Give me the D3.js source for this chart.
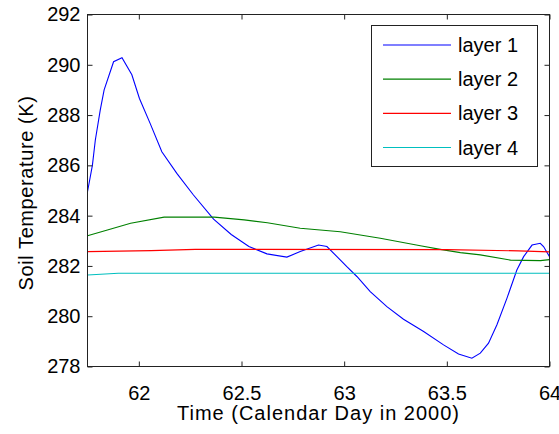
<!DOCTYPE html>
<html>
<head>
<meta charset="utf-8">
<script src="https://cdn.jsdelivr.net/npm/d3@7"></script>
<style>
  html, body { margin: 0; padding: 0; background: #fff; }
  svg { display: block; }
  text { font-family: "Liberation Sans", Arial, Helvetica, sans-serif; fill: #000; }
</style>
</head>
<body>
<svg id="chart" width="559" height="434"></svg>
<script>
// Soil temperature by layer, days 61.75 - 64 of 2000
const layer1Time = [61.75, 61.774, 61.788, 61.812, 61.831, 61.877, 61.918, 61.966, 62.003, 62.055, 62.112, 62.185, 62.266, 62.364, 62.45, 62.536, 62.624, 62.721, 62.786, 62.875, 62.916, 62.965, 63.013, 63.062, 63.127, 63.208, 63.289, 63.387, 63.484, 63.557, 63.622, 63.663, 63.703, 63.744, 63.793, 63.841, 63.874, 63.915, 63.955, 63.971, 64.0];
const layer1Temp = [284.95, 286.01, 287.0, 288.2, 289.0, 290.12, 290.28, 289.6, 288.66, 287.67, 286.54, 285.68, 284.82, 283.86, 283.25, 282.77, 282.48, 282.35, 282.57, 282.83, 282.77, 282.37, 281.97, 281.58, 280.98, 280.38, 279.88, 279.39, 278.86, 278.5, 278.33, 278.53, 278.93, 279.66, 280.72, 281.84, 282.37, 282.83, 282.9, 282.77, 282.37];

const layer2Time = [61.75, 61.847, 61.96, 62.123, 62.367, 62.513, 62.626, 62.786, 62.981, 63.176, 63.371, 63.468, 63.566, 63.663, 63.81, 63.956, 64.0];
const layer2Temp = [283.2, 283.43, 283.7, 283.94, 283.94, 283.83, 283.72, 283.5, 283.36, 283.1, 282.8, 282.66, 282.53, 282.44, 282.23, 282.21, 282.25];

const layer3Time = [61.75, 62.06, 62.275, 63.5, 63.85, 64.0];
const layer3Temp = [282.57, 282.61, 282.66, 282.65, 282.6, 282.56];

const layer4Time = [61.75, 61.9, 64.0];
const layer4Temp = [281.64, 281.71, 281.71];

const seriesNames = ["layer 1", "layer 2", "layer 3", "layer 4"];
const seriesColors = ["#0000ff", "#008000", "#ff0000", "#00bfbf"];

const xTicks = [62, 62.5, 63, 63.5, 64];
const yTicks = [278, 280, 282, 284, 286, 288, 290, 292];

const xLabel = "Time (Calendar Day in 2000)";
const yLabel = "Soil Temperature (K)";

const series = [
  { time: layer1Time, temp: layer1Temp },
  { time: layer2Time, temp: layer2Temp },
  { time: layer3Time, temp: layer3Temp },
  { time: layer4Time, temp: layer4Temp }
].map((s, i) => ({ name: seriesNames[i], color: seriesColors[i],
  points: s.time.map((t, j) => [t, s.temp[j]]) }));

const svg = d3.select("#chart");
const plotLeft = 87.5, plotRight = 549.5, plotTop = 14.5, plotBottom = 366.5;

const x = d3.scaleLinear().domain([61.75, 64]).range([plotLeft, plotRight]);
const y = d3.scaleLinear().domain([278, 292]).range([plotBottom, plotTop]);

const plot = svg.append("g");
plot.append("clipPath").attr("id", "clip")
  .append("rect").attr("x", plotLeft).attr("y", plotTop)
  .attr("width", plotRight - plotLeft).attr("height", plotBottom - plotTop);

const line = d3.line().x(d => x(d[0])).y(d => y(d[1]));

plot.append("g").attr("clip-path", "url(#clip)")
  .selectAll("path").data(series).join("path")
  .attr("d", d => line(d.points))
  .attr("fill", "none")
  .attr("stroke", d => d.color)
  .attr("stroke-width", 1.1);

// Axes with inward ticks on every side
const tickLen = 5;
const fontSize = 20;

const xBottom = d3.axisBottom(x).tickValues(xTicks).tickSizeInner(-tickLen).tickSizeOuter(0)
  .tickPadding(tickLen + 14).tickFormat(d3.format("~g"));
const xTop = d3.axisTop(x).tickValues(xTicks).tickSizeInner(-tickLen).tickSizeOuter(0).tickFormat("");
const yLeft = d3.axisLeft(y).tickValues(yTicks).tickSizeInner(-tickLen).tickSizeOuter(0)
  .tickPadding(tickLen + 2).tickFormat(d3.format("d"));
const yRight = d3.axisRight(y).tickValues(yTicks).tickSizeInner(-tickLen).tickSizeOuter(0).tickFormat("");

function style(g) {
  g.select(".domain").remove();
  g.selectAll(".tick line").attr("stroke", "#222").attr("stroke-width", 1);
  g.selectAll("text").attr("font-size", fontSize)
    .attr("font-family", "Liberation Sans, Arial, sans-serif").attr("fill", "#000");
}

svg.append("g").attr("transform", `translate(0,${plotBottom})`).call(xBottom).call(style);
svg.append("g").attr("transform", `translate(0,${plotTop})`).call(xTop).call(style);
svg.append("g").attr("transform", `translate(${plotLeft},0)`).call(yLeft).call(style);
svg.append("g").attr("transform", `translate(${plotRight},0)`).call(yRight).call(style);

// Frame
svg.append("rect").attr("x", plotLeft).attr("y", plotTop)
  .attr("width", plotRight - plotLeft).attr("height", plotBottom - plotTop)
  .attr("fill", "none").attr("stroke", "#222").attr("stroke-width", 1);

// Axis titles
svg.append("text").attr("x", 318.5).attr("y", 420)
  .attr("text-anchor", "middle").attr("font-size", fontSize)
  .attr("letter-spacing", 1).text(xLabel);
svg.append("text").attr("transform", `translate(33,193) rotate(-90)`)
  .attr("text-anchor", "middle").attr("font-size", fontSize)
  .attr("letter-spacing", 0.6).text(yLabel);

// Legend
const legend = svg.append("g");
legend.append("rect").attr("x", 371.5).attr("y", 25.5).attr("width", 166).attr("height", 141)
  .attr("fill", "#fff").attr("stroke", "#222").attr("stroke-width", 1);
const rowY = d3.scalePoint().domain(seriesNames).range([45, 147.5]);
const rows = legend.selectAll("g.row").data(series).join("g").attr("class", "row")
  .attr("transform", d => `translate(0,${rowY(d.name)})`);
rows.append("line").attr("x1", 383).attr("x2", 451).attr("y1", 0).attr("y2", 0)
  .attr("stroke", d => d.color).attr("stroke-width", 1.1);
rows.append("text").attr("x", 458).attr("y", 0).attr("dy", "0.35em")
  .attr("font-size", fontSize).text(d => d.name);
</script>
</body>
</html>
